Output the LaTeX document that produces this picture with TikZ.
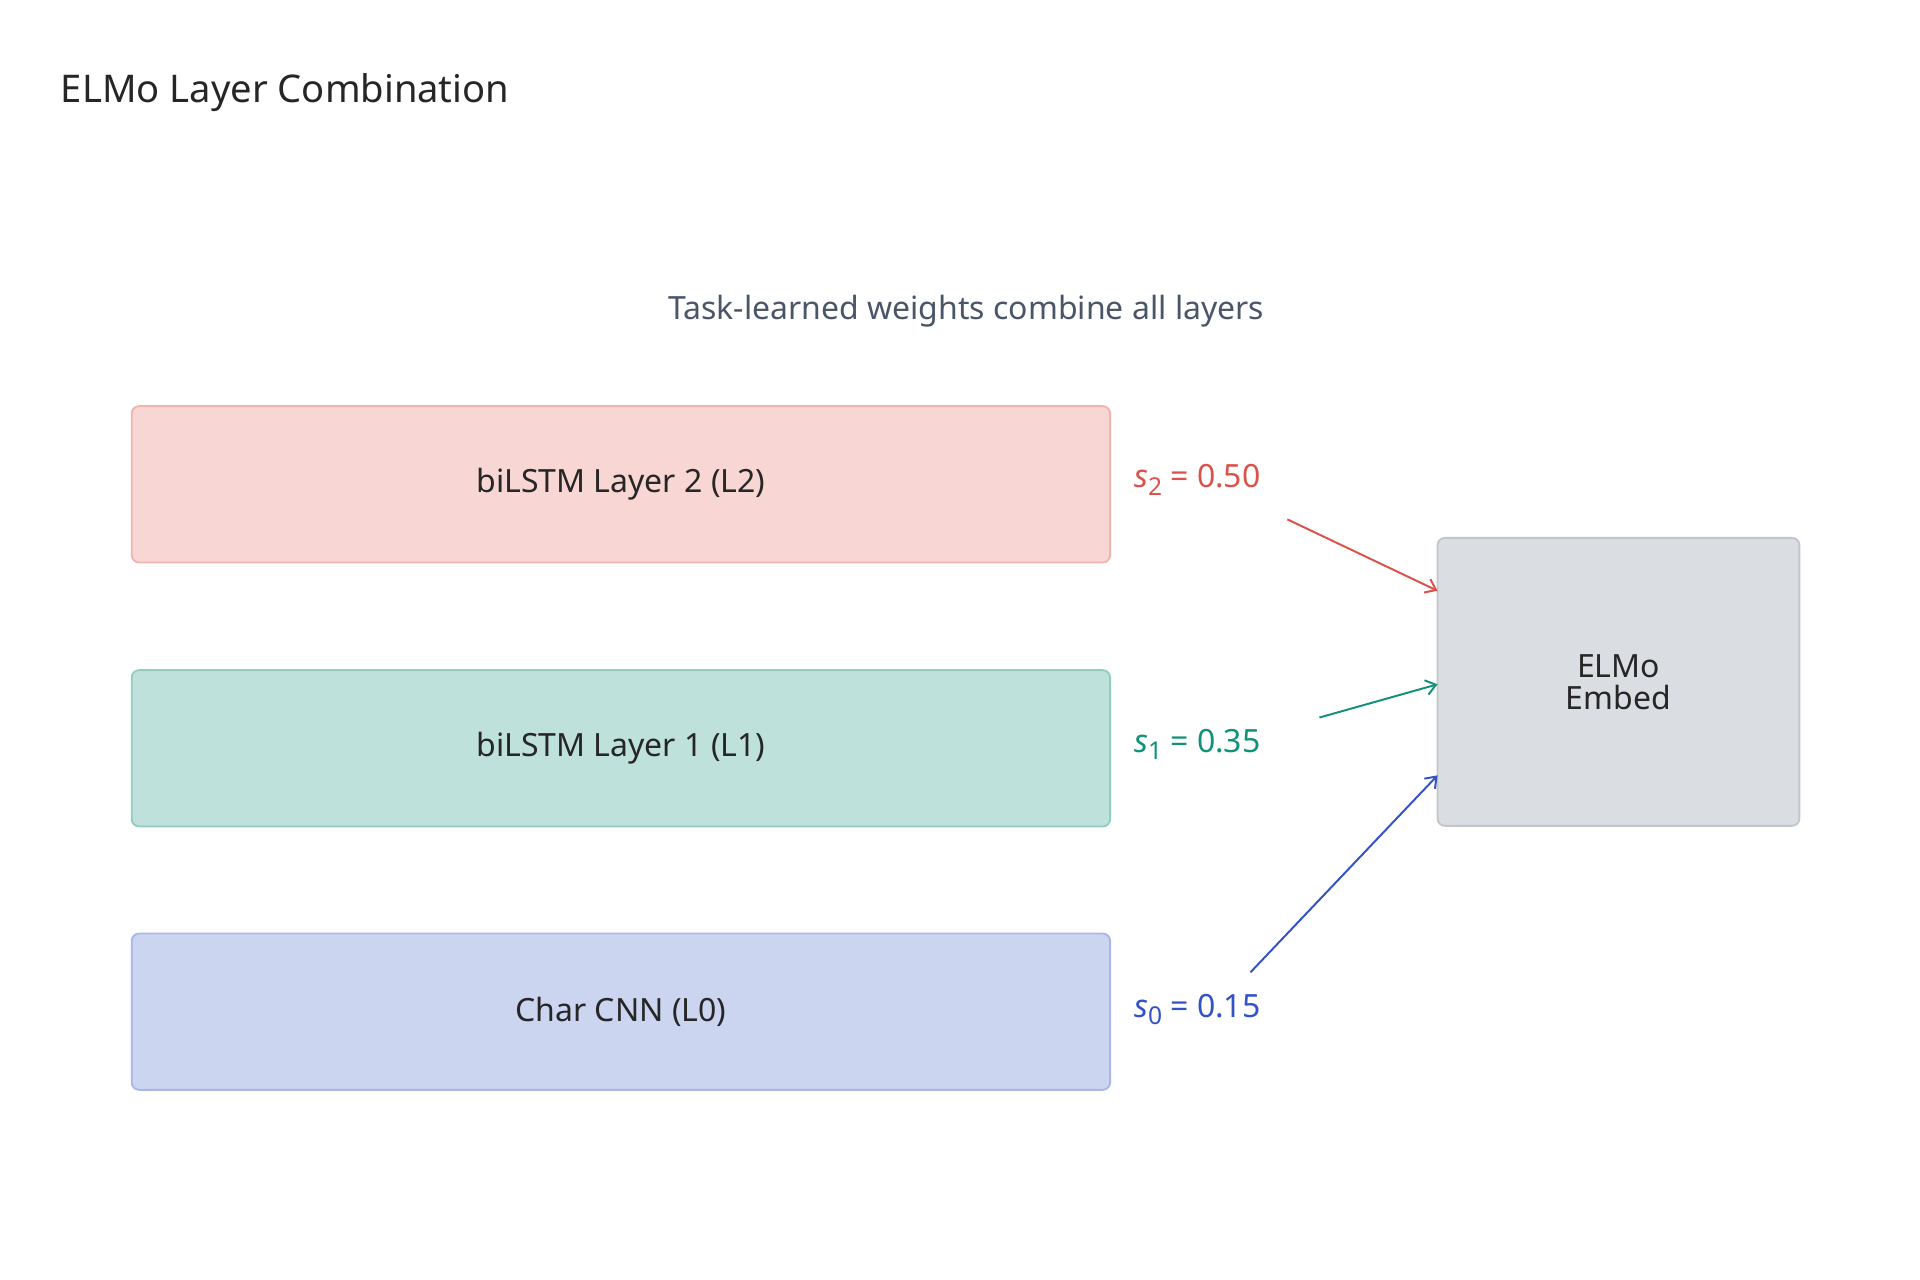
\documentclass[tikz,border=0pt]{standalone}
\usepackage{fontspec}
\setmainfont{Noto Sans}
\usetikzlibrary{arrows.meta}
\newcommand{\sw}[1]{\textit{s}\raisebox{-6pt}{\fontsize{20}{20}\selectfont #1}}
\begin{document}
\begin{tikzpicture}[x=1pt,y=-1pt,
  layer/.style={draw, line width=1.5pt, rounded corners=6pt, minimum width=795pt, minimum height=127pt, font=\fontsize{26}{30}\selectfont, text=black!85},
  lab/.style={anchor=west, font=\fontsize{26}{30}\selectfont},
  arr/.style={line width=1.6pt, -{Straight Barb[length=8pt,width=12pt]}}]
\definecolor{rf}{HTML}{F8D6D4}\definecolor{rd}{HTML}{F0B4AE}
\definecolor{gf}{HTML}{BEE1DB}\definecolor{gd}{HTML}{92CDBF}
\definecolor{bf}{HTML}{CBD5F0}\definecolor{bd}{HTML}{A9B6E6}
\definecolor{ef}{HTML}{DADDE1}\definecolor{ed}{HTML}{C2C6CB}
\definecolor{rt}{HTML}{D9534A}\definecolor{gt}{HTML}{12917A}\definecolor{bt}{HTML}{3252C8}
\definecolor{st}{HTML}{4A5568}
\useasboundingbox (0,0) rectangle (1560,1040);
\node[anchor=west, font=\fontsize{31}{36}\selectfont, text=black!85] (title) at (46,75) {ELMo Layer Combination};
\node[font=\fontsize{26}{30}\selectfont, text=st] (sub) at (785,253) {Task-learned weights combine all layers};
\node[layer, fill=rf, draw=rd] (l2) at (504.5,393.5) {biLSTM Layer 2 (L2)};
\node[layer, fill=gf, draw=gd] (l1) at (504.5,608) {biLSTM Layer 1 (L1)};
\node[layer, fill=bf, draw=bd] (l0) at (504.5,822) {Char CNN (L0)};
\node[draw=ed, fill=ef, line width=1.5pt, rounded corners=6pt, minimum width=294pt, minimum height=234pt, align=center, font=\fontsize{26}{30}\selectfont, text=black!85] (elmo) at (1315,554) {ELMo\\[-4pt]Embed};
\node[lab, text=rt] (s2) at (918,390) {\sw{2} = 0.50};
\node[lab, text=gt] (s1) at (918,605) {\sw{1} = 0.35};
\node[lab, text=bt] (s0) at (918,820) {\sw{0} = 0.15};
\coordinate (a2) at (1046,422); \coordinate (e2) at (1168,480);
\coordinate (a1) at (1072,583); \coordinate (e1) at (1168,556);
\coordinate (a0) at (1016,790); \coordinate (e0) at (1168,630);
\draw[arr, rt] (a2) -- (e2);
\draw[arr, gt] (a1) -- (e1);
\draw[arr, bt] (a0) -- (e0);
\end{tikzpicture}
\end{document}
